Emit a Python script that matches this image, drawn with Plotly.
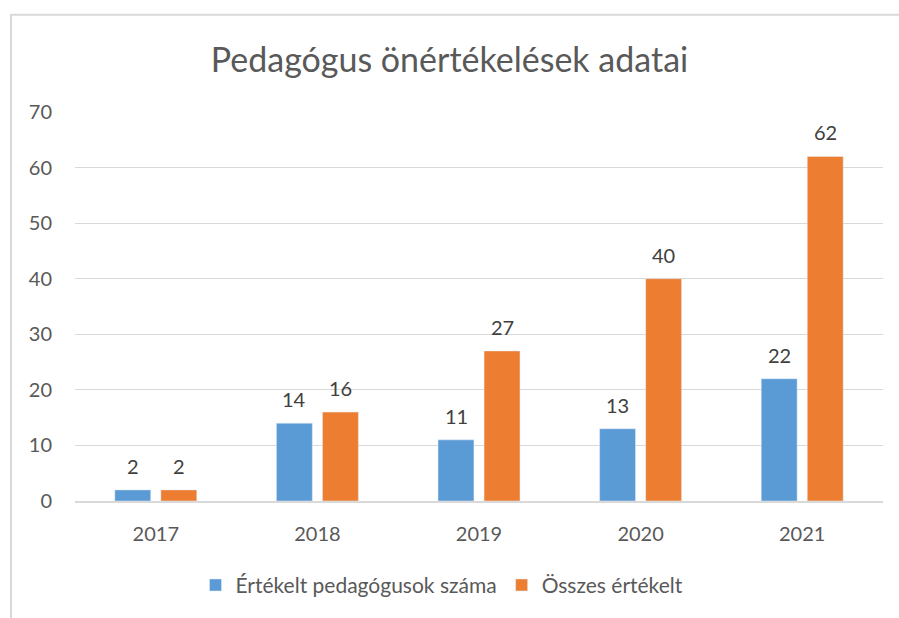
import plotly.graph_objects as go

years = ["2017", "2018", "2019", "2020", "2021"]
ertekelt = [2, 14, 11, 13, 22]
osszes = [2, 16, 27, 40, 62]
series_names = ["Értékelt pedagógusok száma", "Összes értékelt"]
title_text = "Pedagógus önértékelések adatai"
y_ticks = [0, 10, 20, 30, 40, 50, 60, 70]

BLUE = "#5B9BD5"
ORANGE = "#ED7D31"
FONT = "Lato"

fig = go.Figure()
for vals, name, col in ((ertekelt, series_names[0], BLUE), (osszes, series_names[1], ORANGE)):
    fig.add_trace(go.Bar(x=years, y=vals, name=name, marker_color=col))

# value labels (positioned by category index on the category axis)
annotations = []
for vals, xs in ((ertekelt, -23), (osszes, 23)):
    for i, v in enumerate(vals):
        annotations.append(dict(x=i, y=v, xref="x", yref="y", text=str(v), showarrow=False,
                                xshift=xs, yshift=24, yanchor="middle",
                                font=dict(family=FONT, size=20, color="#404040")))

L, R, T, B = 75, 16, 112, 114
W, H = 899, 618
pw, ph = W - L - R, H - T - B
bottom = H - B

fig.update_layout(
    width=W, height=H,
    margin=dict(l=L, r=R, t=T, b=B),
    paper_bgcolor="white", plot_bgcolor="white",
    barmode="group", bargap=0.43, bargroupgap=0.22,
    title=dict(text=title_text, x=0.5, xanchor="center", y=1 - 60 / H, yanchor="middle",
               font=dict(family=FONT, size=34, color="#595959")),
    font=dict(family=FONT, size=20, color="#595959"),
    xaxis=dict(type="category", range=[-0.5, len(years) - 0.5], autorange=False,
               showgrid=False, showline=True, linecolor="#D9D9D9", linewidth=1.5,
               ticks="outside", ticklen=14, tickcolor="rgba(0,0,0,0)"),
    yaxis=dict(range=[0, 70], tickvals=y_ticks, gridcolor="#D9D9D9", gridwidth=1,
               zeroline=False, showline=False,
               ticks="outside", ticklen=18, tickcolor="rgba(0,0,0,0)"),
    legend=dict(orientation="h", x=(442 - L) / pw, xanchor="center", y=(bottom - 589) / ph,
                yanchor="middle", itemwidth=30,
                font=dict(family=FONT, size=21, color="#595959"), traceorder="normal"),
    annotations=annotations,
    shapes=[dict(type="rect", xref="paper", yref="paper",
                 x0=(11 - L) / pw, x1=(W + 20 - L) / pw,
                 y0=(bottom - (H + 20)) / ph, y1=(bottom - 14) / ph,
                 line=dict(color="#D9D9D9", width=2), fillcolor="rgba(0,0,0,0)", layer="below")],
)

fig.write_html("out.html", config={"displayModeBar": False},
               post_script="document.body.style.margin='0';document.body.style.overflow='hidden';")
